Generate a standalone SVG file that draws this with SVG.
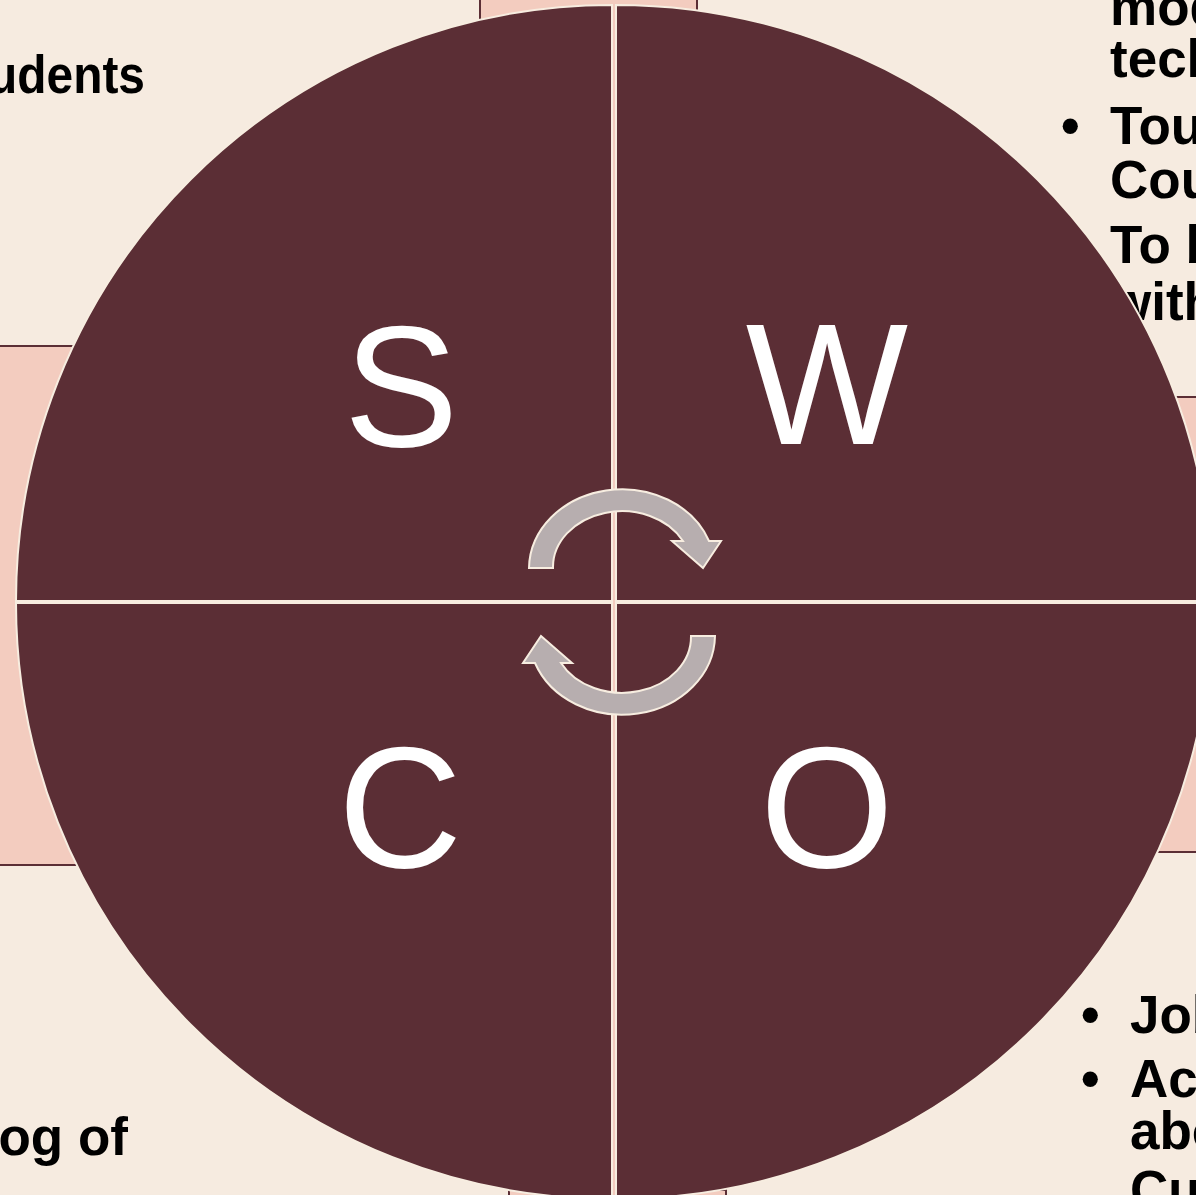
<svg xmlns="http://www.w3.org/2000/svg" width="1196" height="1195" viewBox="0 0 1196 1195">
<style>
.bg{fill:#F6EBE0}
.pk{fill:#F3CCBF;stroke:#5B2E35;stroke-width:2}
.t{font-family:"Liberation Sans",Arial,sans-serif;font-weight:bold;font-size:53px;fill:#000}
.q{fill:#5B2E35;stroke:#F7EDE0;stroke-width:2}
.L{font-family:"Liberation Sans",Arial,sans-serif;font-size:172px;fill:#FFFFFF;text-anchor:middle}
.ar{fill:#B7AEAF;stroke:#F7EDE0;stroke-width:2;stroke-linejoin:miter}
</style>
<rect class="bg" x="0" y="0" width="1196" height="1195"/>
<g id="panels">
<rect class="pk" x="480" y="-10" width="217" height="620"/>
<rect class="pk" x="-10" y="346" width="420" height="519"/>
<rect class="pk" x="790" y="397" width="430" height="455"/>
<rect class="pk" x="509" y="1190" width="217" height="30"/>
<rect x="600" y="590" width="30" height="620" fill="#F3CCBF"/>
</g>
<g id="texts">
<text class="t" x="-12" y="93" textLength="157" lengthAdjust="spacingAndGlyphs">udents</text>
<text class="t" x="128" y="1155" text-anchor="end">og of</text>
<text class="t" x="1110" y="25">mod</text>
<text class="t" x="1110" y="77">tech</text>
<text class="t" x="1061" y="144">•</text>
<text class="t" x="1110" y="144">Tou</text>
<text class="t" x="1110" y="198">Cou</text>
<text class="t" x="1110" y="263">To b</text>
<text class="t" x="1110" y="320">with</text>
<text class="t" x="1081" y="1033">•</text>
<text class="t" x="1130" y="1033">Job</text>
<text class="t" x="1081" y="1097">•</text>
<text class="t" x="1130" y="1097">Ac</text>
<text class="t" x="1130" y="1149">abo</text>
<text class="t" x="1130" y="1208">Cu</text>
</g>
<g id="node-S">
<path class="q" d="M612,601 L16,601 A596,596 0 0 1 612,5 Z"/>
<text class="L" x="401" y="446">S</text>
</g>
<g id="node-W">
<path class="q" d="M616,601 L616,5 A596,596 0 0 1 1212,601 Z"/>
<text class="L" x="827" y="444">W</text>
</g>
<g id="node-C">
<path class="q" d="M612,603 L612,1199 A596,596 0 0 1 16,603 Z"/>
<text class="L" x="400" y="867">C</text>
</g>
<g id="node-O">
<path class="q" d="M616,603 L1212,603 A596,596 0 0 1 616,1199 Z"/>
<text class="L" x="827" y="867">O</text>
</g>
<g id="connectors">
<path class="ar" d="M529,568 A93,80 0 0 1 709,541 L721,541 L703,568 L672,541 L683,541 A69,56 0 0 0 553,568 Z"/>
<path class="ar" d="M529,568 A93,80 0 0 1 709,541 L721,541 L703,568 L672,541 L683,541 A69,56 0 0 0 553,568 Z" transform="rotate(180 622 602)"/>
</g>
</svg>
